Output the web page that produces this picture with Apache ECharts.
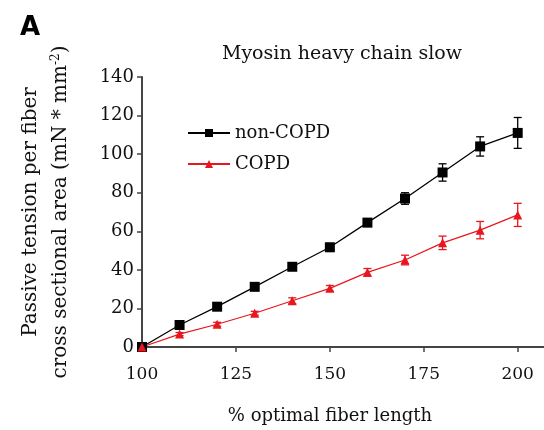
<!DOCTYPE html>
<html>
<head>
<meta charset="utf-8">
<script src="https://cdn.jsdelivr.net/npm/echarts@6/dist/echarts.min.js"></script>
<style>
  html, body { margin: 0; padding: 0; background: #fff; }
  #chart { width: 544px; height: 430px; }
</style>
</head>
<body>
<div id="chart"></div>
<script>
// % optimal fiber length
var lengths = [100, 110, 120, 130, 140, 150, 160, 170, 180, 190, 200];
// passive tension (mN * mm^-2)
var nonCopdMean = [0, 11.4, 20.9, 31.2, 41.6, 51.7, 64.5, 77, 90.5, 104, 111];
var nonCopdErr  = [0, 1, 1, 1, 1, 2, 2, 3, 4.5, 5, 8];
var copdMean = [0, 6.7, 11.8, 17.5, 24, 30.4, 38.7, 45.1, 54, 60.6, 68.5];
var copdErr  = [0, 0.8, 1, 1, 1.5, 1.5, 2, 2.5, 3.5, 4.5, 6];
var xTicks = [100, 125, 150, 175, 200];

var serif = '"DejaVu Serif", "Liberation Serif", serif';

function pairs(means) {
  return lengths.map(function (x, i) { return [x, means[i]]; });
}
function errData(means, errs) {
  return lengths.map(function (x, i) { return [x, means[i] - errs[i], means[i] + errs[i]]; });
}
function errRender(color) {
  return function (params, api) {
    var x = api.value(0);
    var lo = api.coord([x, api.value(1)]);
    var hi = api.coord([x, api.value(2)]);
    var w = 4;
    var st = { stroke: color, lineWidth: 1.3 };
    return {
      type: 'group',
      children: [
        { type: 'line', shape: { x1: lo[0], y1: lo[1], x2: hi[0], y2: hi[1] }, style: st },
        { type: 'line', shape: { x1: lo[0] - w, y1: lo[1], x2: lo[0] + w, y2: lo[1] }, style: st },
        { type: 'line', shape: { x1: hi[0] - w, y1: hi[1], x2: hi[0] + w, y2: hi[1] }, style: st }
      ]
    };
  };
}

var chart = echarts.init(document.getElementById('chart'));
chart.setOption({
  animation: false,
  backgroundColor: '#fff',
  title: [
    { text: 'A', left: 15, top: 10, textStyle: { fontFamily: '"DejaVu Sans", sans-serif', fontSize: 26, fontWeight: 'bold', color: '#000' } },
    { text: 'Myosin heavy chain slow', left: 337, top: 40, textAlign: 'center', textStyle: { fontFamily: serif, fontSize: 19, fontWeight: 'normal', color: '#111' } }
  ],
  legend: {
    orient: 'vertical',
    left: 182,
    top: 119,
    itemWidth: 42,
    itemHeight: 10,
    itemGap: 13,
    textStyle: { fontFamily: serif, fontSize: 18, color: '#111' },
    data: ['non-COPD', 'COPD']
  },
  grid: { left: 142, right: 0, top: 77, bottom: 83, outerBoundsMode: 'none' },
  xAxis: {
    type: 'value',
    min: 100,
    max: 207,
    interval: 25,
    name: '% optimal fiber length',
    nameLocation: 'middle',
    nameGap: 60,
    nameTextStyle: { fontFamily: serif, fontSize: 18, color: '#111', padding: [0, 26, 0, 0] },
    axisLine: { lineStyle: { color: '#444', width: 2 } },
    axisTick: { show: true, length: 5, customValues: xTicks, lineStyle: { color: '#444', width: 1.5 } },
    axisLabel: { customValues: xTicks, fontFamily: serif, fontSize: 17, color: '#111', margin: 19 },
    splitLine: { show: false }
  },
  yAxis: {
    type: 'value',
    min: 0,
    max: 140,
    interval: 20,
    name: 'Passive tension per fiber\ncross sectional area (mN * mm{sup|-2})',
    nameLocation: 'middle',
    nameRotate: 90,
    nameGap: 66,
    nameTextStyle: {
      fontFamily: serif, fontSize: 20, color: '#111', lineHeight: 30,
      rich: { sup: { fontFamily: serif, fontSize: 12, color: '#111', lineHeight: 30, padding: [0, 0, 10, 0] } }
    },
    axisLine: { show: true, lineStyle: { color: '#444', width: 2 } },
    axisTick: { show: true, length: 5, lineStyle: { color: '#444', width: 1.5 } },
    axisLabel: { fontFamily: serif, fontSize: 18, color: '#111', margin: 8 },
    splitLine: { show: false }
  },
  series: [
    {
      name: 'non-COPD',
      type: 'line',
      data: pairs(nonCopdMean),
      symbol: 'rect',
      symbolSize: 10,
      showAllSymbol: true,
      z: 3,
      itemStyle: { color: '#000' },
      lineStyle: { color: '#000', width: 1.3 }
    },
    {
      name: 'COPD',
      type: 'line',
      data: pairs(copdMean),
      symbol: 'triangle',
      symbolSize: 9,
      z: 3,
      itemStyle: { color: '#e8161e' },
      lineStyle: { color: '#e8161e', width: 1.2 }
    },
    {
      type: 'custom',
      name: 'non-COPD-err',
      renderItem: errRender('#000'),
      data: errData(nonCopdMean, nonCopdErr),
      encode: { x: 0, y: [1, 2] },
      z: 2
    },
    {
      type: 'custom',
      name: 'COPD-err',
      renderItem: errRender('#e8161e'),
      data: errData(copdMean, copdErr),
      encode: { x: 0, y: [1, 2] },
      z: 2
    }
  ]
});
</script>
</body>
</html>
